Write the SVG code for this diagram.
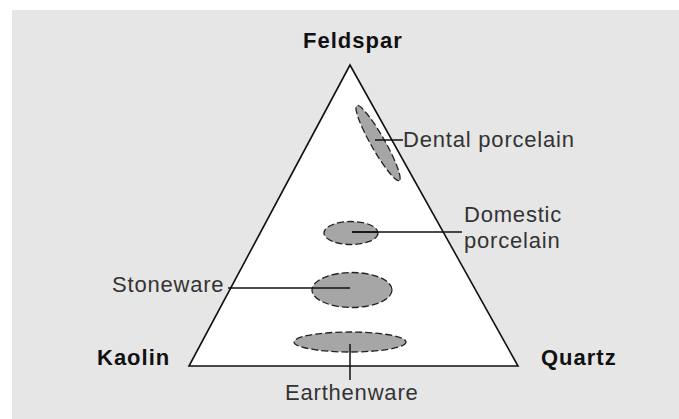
<svg xmlns="http://www.w3.org/2000/svg" width="679" height="419" viewBox="0 0 679 419">
<style>
.bold{font-family:"Liberation Sans",Arial,sans-serif;font-weight:bold;font-size:22px;letter-spacing:1px;fill:#111}
.lbl{font-family:"Liberation Sans",Arial,sans-serif;font-size:22px;letter-spacing:0.8px;fill:#333}
.region{fill:#a6a6a6;stroke:#222;stroke-width:1.3;stroke-dasharray:7 3}
.conn{stroke:#111;stroke-width:1.5;fill:none}
</style>
<rect x="0" y="0" width="679" height="419" fill="#ffffff"/>
<rect x="12" y="10" width="667" height="409" fill="#e6e6e6"/>
<g id="triangle">
<polygon points="350,65 189,366 518,366" fill="#ffffff" stroke="#111" stroke-width="1.6"/>
</g>
<g id="feldspar"><text class="bold" x="303" y="48">Feldspar</text></g>
<g id="kaolin"><text class="bold" x="97" y="365">Kaolin</text></g>
<g id="quartz"><text class="bold" x="541" y="365">Quartz</text></g>
<g id="dental">
<ellipse class="region" cx="378" cy="143" rx="43" ry="7" transform="rotate(60.4 378 143)"/>
<text class="lbl" x="403" y="147">Dental porcelain</text>
</g>
<g id="domestic">
<ellipse class="region" cx="351" cy="233" rx="27" ry="11.5"/>
<text class="lbl" x="464" y="222">Domestic</text>
<text class="lbl" x="464" y="248">porcelain</text>
</g>
<g id="stoneware">
<ellipse class="region" cx="352" cy="290" rx="40" ry="17.5"/>
<text class="lbl" x="112" y="292">Stoneware</text>
</g>
<g id="earthenware">
<ellipse class="region" cx="350" cy="342" rx="56" ry="10"/>
<text class="lbl" x="285" y="400">Earthenware</text>
</g>
<g id="connectors">
<line class="conn" x1="375" y1="140" x2="403" y2="140"/>
<line class="conn" x1="352" y1="232" x2="462" y2="232"/>
<line class="conn" x1="352" y1="232" x2="378" y2="232" stroke-width="3"/>
<line class="conn" x1="228" y1="288" x2="350" y2="288"/>
<line class="conn" x1="350" y1="344" x2="350" y2="380"/>
</g>
</svg>
